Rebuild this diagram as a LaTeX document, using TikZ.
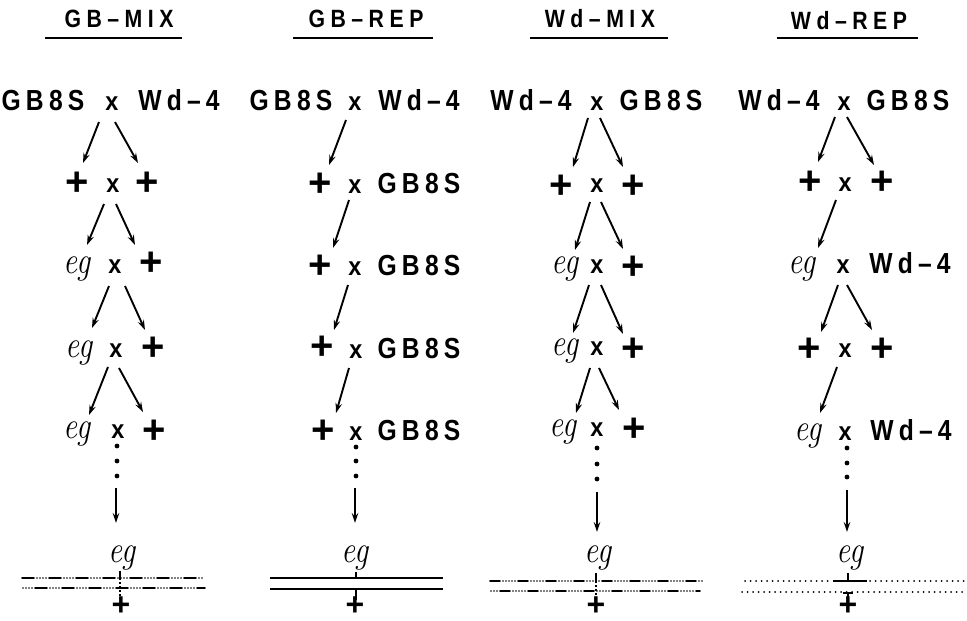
\documentclass[tikz,border=0pt]{standalone}
\usepackage{fontspec}
\usepackage{graphicx}
\usetikzlibrary{arrows.meta}
\newfontfamily\tkfnt[FakeStretch=0.85,LetterSpace=18]{Liberation Sans Bold}
\newfontfamily\hdfnt[FakeStretch=0.85,LetterSpace=22]{Liberation Sans Bold}
\newfontfamily\crfnt[FakeStretch=0.9]{Liberation Sans Bold}
\newfontfamily\plfnt{Liberation Sans Bold}
\newcommand\arw[3]{\coordinate (#1s) at (#2); \coordinate (#1e) at (#3); \draw[arr] (#1s) -- (#1e);}
\newcommand\EG{\scalebox{0.82}[1]{eg}}
\begin{document}
\begin{tikzpicture}[x=1pt,y=-1pt,
  tok/.style={font=\tkfnt\fontsize{29}{31}\selectfont, anchor=base, inner sep=0pt},
  cr/.style={font=\crfnt\fontsize{26}{28}\selectfont, anchor=base, inner sep=0pt},
  pl/.style={font=\plfnt\fontsize{40}{42}\selectfont, anchor=center, inner sep=0pt},
  plb/.style={font=\plfnt\fontsize{32}{34}\selectfont, anchor=center, inner sep=0pt},
  egs/.style={font=\fontsize{38}{40}\selectfont\itshape, anchor=base, inner sep=0pt},
  hd/.style={font=\hdfnt\fontsize{25}{27}\selectfont, anchor=center, inner sep=0pt, xshift=2pt},
  arr/.style={line width=1.9pt, -{Stealth[length=10pt,width=6.5pt,inset=3.5pt]}},
  ul/.style={line width=2.2pt},
  dotn/.style={circle, fill, inner sep=0pt, minimum size=4.8pt},
  cross/.style={line width=2.2pt},
  mixline/.style={line width=1.9pt, line cap=round, dash pattern=on 12pt off 3pt on 0pt off 3pt on 0pt off 3pt on 0pt off 3pt on 0pt off 3pt},
  mixlineb/.style={line width=1.9pt, line cap=round, dash pattern=on 10pt off 3pt on 0pt off 3pt on 0pt off 3pt on 0pt off 3pt on 0pt off 3pt on 0pt off 3pt},
  dotline/.style={line width=2pt, line cap=round, dash pattern=on 0pt off 5.5pt},
  thin dots/.style={line width=1.4pt, dash pattern=on 2pt off 2pt}
]
\path[use as bounding box, fill=white] (0,0) rectangle (967,621);

% ================= GB-MIX =================
\node[hd] (h1) at (117,19) {GB–MIX};
\coordinate (u1a) at (45,38); \coordinate (u1b) at (182,38);
\draw[ul] (u1a) -- (u1b);
\node[tok] (a1g) at (43,110) {GB8S};
\node[cr]  (a1x) at (112,110) {x};
\node[tok] (a1w) at (179,110) {Wd–4};
\node[pl]  (a2p) at (77,184) {+};
\node[cr]  (a2x) at (113,192) {x};
\node[pl]  (a2q) at (147,184) {+};
\node[egs] (a3e) at (77,273) {\EG};
\node[cr]  (a3x) at (115,273) {x};
\node[pl]  (a3q) at (151,264) {+};
\node[egs] (a4e) at (79,357) {\EG};
\node[cr]  (a4x) at (116,357) {x};
\node[pl]  (a4q) at (153,349) {+};
\node[egs] (a5e) at (77,438) {\EG};
\node[cr]  (a5x) at (118,438) {x};
\node[pl]  (a5q) at (154,432) {+};
\arw{a12l}{99,122}{83,163}
\arw{a12r}{115,122}{138,163}
\arw{a23l}{104,204}{87,245}
\arw{a23r}{116,204}{135,245}
\arw{a34l}{109,286}{92,328}
\arw{a34r}{125,286}{145,330}
\arw{a45l}{108,367}{89,415}
\arw{a45r}{119,368}{143,412}
\node[dotn] (ad1) at (117,446) {};
\node[dotn] (ad2) at (117,461) {};
\node[dotn] (ad3) at (117,476) {};
\arw{av}{116,488}{116,523}
\node[egs] (a6e) at (122,562) {\EG};
\coordinate (aL1a) at (22,578); \coordinate (aL1b) at (203,578);
\coordinate (aL2a) at (22,588); \coordinate (aL2b) at (205,588);
\draw[mixline] (aL1a) -- (aL1b);
\draw[mixline, dash phase=14pt] (aL2a) -- (aL2b);
\coordinate (at1) at (120,571); \coordinate (at2) at (120,578); \coordinate (at3) at (120,599);
\draw[cross] (at1) -- (at2);
\draw[thin dots] (at2) -- (at3);
\node[plb] (a6p) at (121,606) {+};

% ================= GB-REP =================
\node[hd] (h2) at (364,19) {GB–REP};
\coordinate (u2a) at (293,38); \coordinate (u2b) at (433,38);
\draw[ul] (u2a) -- (u2b);
\node[tok] (b1g) at (291,110) {GB8S};
\node[cr]  (b1x) at (355,110) {x};
\node[tok] (b1w) at (419,110) {Wd–4};
\node[pl]  (b2p) at (320,185) {+};
\node[cr]  (b2x) at (355,193) {x};
\node[tok] (b2g) at (419,193) {GB8S};
\node[pl]  (b3p) at (320,267) {+};
\node[cr]  (b3x) at (355,275) {x};
\node[tok] (b3g) at (419,275) {GB8S};
\node[pl]  (b4p) at (322,348) {+};
\node[cr]  (b4x) at (356,358) {x};
\node[tok] (b4g) at (419,358) {GB8S};
\node[pl]  (b5p) at (323,432) {+};
\node[cr]  (b5x) at (356,440) {x};
\node[tok] (b5g) at (419,440) {GB8S};
\arw{b12}{346,120}{329,165}
\arw{b23}{349,200}{333,248}
\arw{b34}{348,285}{334,330}
\arw{b45}{349,368}{336,413}
\node[dotn] (bd1) at (356,447) {};
\node[dotn] (bd2) at (356,461) {};
\node[dotn] (bd3) at (356,476) {};
\arw{bv}{355,488}{355,523}
\node[egs] (b6e) at (355,562) {\EG};
\coordinate (bL1a) at (270,578); \coordinate (bL1b) at (443,578);
\coordinate (bL2a) at (270,589); \coordinate (bL2b) at (443,589);
\draw[line width=1.9pt] (bL1a) -- (bL1b);
\draw[line width=1.9pt] (bL2a) -- (bL2b);
\coordinate (bt1) at (356,572); \coordinate (bt2) at (356,578);
\coordinate (bt3) at (356,589); \coordinate (bt4) at (356,600);
\draw[cross] (bt1) -- (bt2);
\draw[cross] (bt3) -- (bt4);
\node[plb] (b6p) at (355,606) {+};

% ================= Wd-MIX =================
\node[hd] (h3) at (598,19) {Wd–MIX};
\coordinate (u3a) at (530,38); \coordinate (u3b) at (668,38);
\draw[ul] (u3a) -- (u3b);
\node[tok] (c1w) at (531,110) {Wd–4};
\node[cr]  (c1x) at (597,110) {x};
\node[tok] (c1g) at (661,110) {GB8S};
\node[pl]  (c2p) at (561,187) {+};
\node[cr]  (c2x) at (597,192) {x};
\node[pl]  (c2q) at (633,187) {+};
\node[egs] (c3e) at (565,273) {\EG};
\node[cr]  (c3x) at (597,273) {x};
\node[pl]  (c3q) at (633,268) {+};
\node[egs] (c4e) at (565,355) {\EG};
\node[cr]  (c4x) at (597,355) {x};
\node[pl]  (c4q) at (633,350) {+};
\node[egs] (c5e) at (563,436) {\EG};
\node[cr]  (c5x) at (597,436) {x};
\node[pl]  (c5q) at (634,430) {+};
\arw{c12l}{588,118}{573,167}
\arw{c12r}{600,118}{623,167}
\arw{c23l}{590,202}{575,250}
\arw{c23r}{601,202}{623,249}
\arw{c34l}{589,285}{573,333}
\arw{c34r}{601,285}{623,334}
\arw{c45l}{590,368}{576,413}
\arw{c45r}{599,368}{619,410}
\node[dotn] (cd1) at (597,448) {};
\node[dotn] (cd2) at (597,464) {};
\node[dotn] (cd3) at (597,479) {};
\arw{cv}{597,492}{597,532}
\node[egs] (c6e) at (598,562) {\EG};
\coordinate (cL1a) at (490,581); \coordinate (cL1b) at (702,581);
\coordinate (cL2a) at (490,591); \coordinate (cL2b) at (700,591);
\draw[mixlineb] (cL1a) -- (cL1b);
\draw[mixlineb, dash phase=18pt] (cL2a) -- (cL2b);
\coordinate (ct1) at (596,573); \coordinate (ct2) at (596,581); \coordinate (ct3) at (596,599);
\draw[cross] (ct1) -- (ct2);
\draw[thin dots] (ct2) -- (ct3);
\node[plb] (c6p) at (596,606) {+};

% ================= Wd-REP =================
\node[hd] (h4) at (847,21) {Wd–REP};
\coordinate (u4a) at (777,38); \coordinate (u4b) at (918,38);
\draw[ul] (u4a) -- (u4b);
\node[tok] (d1w) at (779,110) {Wd–4};
\node[cr]  (d1x) at (844,110) {x};
\node[tok] (d1g) at (908,110) {GB8S};
\node[pl]  (d2p) at (810,183) {+};
\node[cr]  (d2x) at (845,191) {x};
\node[pl]  (d2q) at (882,183) {+};
\node[egs] (d3e) at (802,273) {\EG};
\node[cr]  (d3x) at (843,273) {x};
\node[tok] (d3w) at (910,273) {Wd–4};
\node[pl]  (d4p) at (809,350) {+};
\node[cr]  (d4x) at (845,357) {x};
\node[pl]  (d4q) at (882,350) {+};
\node[egs] (d5e) at (808,440) {\EG};
\node[cr]  (d5x) at (845,440) {x};
\node[tok] (d5w) at (911,440) {Wd–4};
\arw{d12l}{835,117}{818,162}
\arw{d12r}{847,117}{874,165}
\arw{d23}{836,200}{818,248}
\arw{d34l}{838,285}{821,332}
\arw{d34r}{847,285}{872,330}
\arw{d45}{837,367}{820,413}
\node[dotn] (dd1) at (847,448) {};
\node[dotn] (dd2) at (847,463) {};
\node[dotn] (dd3) at (847,477) {};
\arw{dv}{847,490}{847,532}
\node[egs] (d6e) at (850,562) {\EG};
\coordinate (dL1a) at (745,581); \coordinate (dL1b) at (830,581);
\coordinate (dL1c) at (833,581); \coordinate (dL1d) at (867,581);
\coordinate (dL1e) at (870,581); \coordinate (dL1f) at (967,581);
\coordinate (dL2a) at (742,592); \coordinate (dL2b) at (963,592);
\draw[dotline] (dL1a) -- (dL1b);
\draw[line width=1.9pt] (dL1c) -- (dL1d);
\draw[dotline] (dL1e) -- (dL1f);
\draw[dotline] (dL2a) -- (dL2b);
\coordinate (dt1) at (848,573); \coordinate (dt2) at (848,581);
\coordinate (dt3) at (848,592); \coordinate (dt4) at (848,600);
\coordinate (dt5) at (843,593); \coordinate (dt6) at (853,593);
\draw[cross] (dt1) -- (dt2);
\draw[cross] (dt3) -- (dt4);
\draw[cross] (dt5) -- (dt6);
\node[plb] (d6p) at (848,606) {+};
\end{tikzpicture}
\end{document}
